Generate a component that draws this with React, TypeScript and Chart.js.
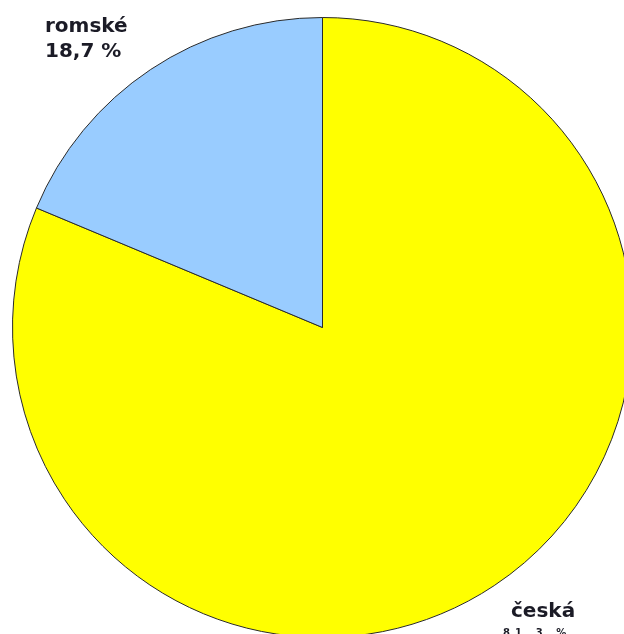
import React, { useEffect, useRef } from "react";
import { Chart, registerables } from "chart.js";

Chart.register(...registerables);

const categories = ["česká", "romské"];
const values = [81.3, 18.7];
const valueLabels = ["81,3 %", "18,7 %"];
const colors = ["#FFFF00", "#99CCFF"];

const labelPlugin = {
  id: "sliceLabels",
  afterDraw(chart: any) {
    const ctx = chart.ctx;
    ctx.save();
    ctx.fillStyle = "#1b1b26";
    ctx.textBaseline = "alphabetic";
    ctx.textAlign = "left";
    ctx.font = "bold 20px 'DejaVu Sans', Verdana, sans-serif";
    // romské label
    ctx.fillText(categories[1], 45, 32);
    ctx.fillText(valueLabels[1], 45, 57);
    // česká label
    ctx.fillText(categories[0], 511, 617);
    ctx.font = "bold 10px 'DejaVu Sans', Verdana, sans-serif";
    (ctx as any).letterSpacing = "5px";
    ctx.fillText(valueLabels[0], 503, 636);
    ctx.restore();
  },
};

export default function App() {
  const ref = useRef<HTMLCanvasElement | null>(null);
  useEffect(() => {
    if (!ref.current) return;
    const chart = new Chart(ref.current, {
      type: "pie",
      data: {
        labels: categories,
        datasets: [
          {
            data: values,
            backgroundColor: colors,
            borderColor: "#2a2a2a",
            borderWidth: 1,
          },
        ],
      },
      options: {
        responsive: false,
        animation: false,
        layout: { padding: { left: 12, top: 17, right: 12, bottom: 17 } },
        plugins: {
          legend: { display: false },
          tooltip: { enabled: false },
        },
      },
      plugins: [labelPlugin],
    });
    return () => chart.destroy();
  }, []);
  return (
    <div
      style={{
        position: "fixed",
        left: 0,
        top: 0,
        width: 624,
        height: 634,
        overflow: "hidden",
        background: "#fff",
      }}
    >
      <canvas
        ref={ref}
        width={645}
        height={655}
        style={{ display: "block", width: 645, height: 655 }}
      />
    </div>
  );
}
